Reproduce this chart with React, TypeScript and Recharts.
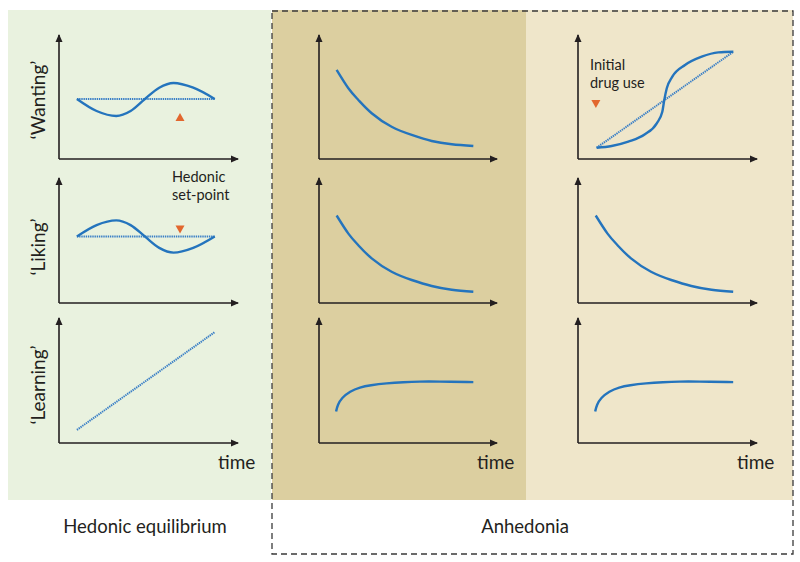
import { Line, LineChart, ReferenceDot, ReferenceLine, XAxis, YAxis } from 'recharts';

// shared time grids (axis units: 0 = origin, 10 = arrow tip)
const eqTime = [1.0, 2.1, 3.2, 4.0, 4.8, 5.6, 6.4, 7.5, 8.7];
const eqWanting = [4.84, 3.87, 3.47, 3.87, 4.84, 5.75, 6.13, 5.75, 4.84];
const eqLiking = [5.32, 6.23, 6.61, 6.23, 5.32, 4.41, 4.03, 4.41, 5.32];
const setPointTime = [1.0, 8.7];
const setPointWanting = [4.84, 4.84];
const setPointLiking = [5.32, 5.32];
const eqLearning = [1.05, 8.87];

const decayTime = [0.99, 1.65, 2.21, 2.96, 4.08, 5.21, 6.33, 7.46, 8.67];
const anhWanting = [7.18, 5.7, 4.76, 3.69, 2.6, 1.94, 1.45, 1.19, 1.05];
const anhLiking = [7.0, 5.55, 4.62, 3.57, 2.5, 1.84, 1.36, 1.06, 0.9];

const learnTime = [0.96, 1.05, 1.27, 1.74, 2.3, 2.87, 3.8, 4.74, 5.67, 6.61, 8.67];
const anhLearning = [2.52, 3.06, 3.6, 4.14, 4.46, 4.62, 4.78, 4.87, 4.92, 4.92, 4.87];

const drugTime = [1.04, 1.88, 2.81, 3.74, 4.4, 4.71, 4.82, 4.96, 5.27, 5.98, 6.91, 7.84, 8.68];
const drugWanting = [0.91, 1.05, 1.4, 1.99, 2.88, 3.81, 4.76, 5.7, 6.64, 7.58, 8.25, 8.6, 8.65];
const drugDiagTime = [1.04, 8.68];
const drugDiag = [0.91, 8.65];

const rowLabels = ['\u2018Wanting\u2019', '\u2018Liking\u2019', '\u2018Learning\u2019'];

const blue = '#2474bd';
const ink = '#231f20';
const orange = '#e2672e';
const font = 'Lato, "Open Sans", sans-serif';

const zip = (t: number[], v: number[]) => t.map((x, i) => ({ t: x, v: v[i] }));

type Series = { data: { t: number; v: number }[]; dotted?: boolean; curve?: 'natural' | 'monotone' | 'basis' };
type Marker = { x: number; y: number; dir: 'up' | 'down' };

const colX = [59, 319, 578];
const colW = [179, 178, 179];
const rowY = [35, 178, 318];
const rowH = [124, 125, 125];
const M = 8;

const arrowRight = (p: any) => (
  <polygon points={`${p.cx + 1},${p.cy} ${p.cx - 7},${p.cy - 3.5} ${p.cx - 7},${p.cy + 3.5}`} fill={ink} />
);
const arrowUp = (p: any) => (
  <polygon points={`${p.cx},${p.cy - 1} ${p.cx - 3.5},${p.cy + 7} ${p.cx + 3.5},${p.cy + 7}`} fill={ink} />
);
const triUp = (p: any) => (
  <polygon points={`${p.cx},${p.cy - 4} ${p.cx - 4.5},${p.cy + 4} ${p.cx + 4.5},${p.cy + 4}`} fill={orange} />
);
const triDown = (p: any) => (
  <polygon points={`${p.cx},${p.cy + 4} ${p.cx - 4.5},${p.cy - 4} ${p.cx + 4.5},${p.cy - 4}`} fill={orange} />
);

function Panel({ col, row, series, markers = [] }: { col: number; row: number; series: Series[]; markers?: Marker[] }) {
  const w = colW[col];
  const h = rowH[row];
  return (
    <div style={{ position: 'absolute', left: colX[col] - M, top: rowY[row] - M }}>
      <LineChart width={w + 2 * M} height={h + 2 * M} margin={{ top: M, right: M, bottom: M, left: M }}>
        <XAxis type="number" dataKey="t" domain={[0, 10]} allowDataOverflow hide />
        <YAxis type="number" dataKey="v" domain={[0, 10]} allowDataOverflow hide />
        <ReferenceLine y={0} stroke={ink} strokeWidth={1.6} />
        <ReferenceLine x={0} stroke={ink} strokeWidth={1.6} />
        <ReferenceDot x={10} y={0} r={0} shape={arrowRight} />
        <ReferenceDot x={0} y={10} r={0} shape={arrowUp} />
        {series.map((s, i) => (
          <Line
            key={i}
            data={s.data}
            dataKey="v"
            type={s.curve ?? 'natural'}
            stroke={s.dotted ? '#3a7fc6' : blue}
            strokeWidth={s.dotted ? 2 : 2.4}
            strokeDasharray={s.dotted ? '1.4 0.8' : undefined}
            dot={false}
            isAnimationActive={false}
          />
        ))}
        {markers.map((m, i) => (
          <ReferenceDot key={i} x={m.x} y={m.y} r={0} shape={m.dir === 'up' ? triUp : triDown} />
        ))}
      </LineChart>
    </div>
  );
}

function Text({ x, y, size, children, center, rotate }: any) {
  return (
    <div
      style={{
        position: 'absolute',
        left: x,
        top: y,
        fontSize: size,
        lineHeight: 1.25,
        whiteSpace: 'nowrap',
        transform: `${center ? 'translate(-50%,-50%)' : ''} ${rotate ? 'rotate(-90deg)' : ''}`,
      }}
    >
      {children}
    </div>
  );
}

export default function App() {
  return (
    <div style={{ position: 'absolute', left: 0, top: 0, width: 800, height: 562, background: '#fff', fontFamily: font, color: ink, overflow: 'hidden' }}>
      <div style={{ position: 'absolute', left: 8, top: 10, width: 263, height: 490, background: '#e9f2df' }} />
      <div style={{ position: 'absolute', left: 272, top: 10, width: 254, height: 490, background: '#dccfa0' }} />
      <div style={{ position: 'absolute', left: 526, top: 10, width: 267, height: 490, background: '#efe6ca' }} />

      <Panel col={0} row={0} series={[{ data: zip(setPointTime, setPointWanting), dotted: true }, { data: zip(eqTime, eqWanting), curve: 'monotone' }]} markers={[{ x: 6.76, y: 3.39, dir: 'up' }]} />
      <Panel col={0} row={1} series={[{ data: zip(setPointTime, setPointLiking), dotted: true }, { data: zip(eqTime, eqLiking), curve: 'monotone' }]} markers={[{ x: 6.76, y: 5.89, dir: 'down' }]} />
      <Panel col={0} row={2} series={[{ data: zip(setPointTime, eqLearning), dotted: true }]} />

      <Panel col={1} row={0} series={[{ data: zip(decayTime, anhWanting) }]} />
      <Panel col={1} row={1} series={[{ data: zip(decayTime, anhLiking) }]} />
      <Panel col={1} row={2} series={[{ data: zip(learnTime, anhLearning), curve: 'basis' }]} />

      <Panel col={2} row={0} series={[{ data: zip(drugDiagTime, drugDiag), dotted: true }, { data: zip(drugTime, drugWanting), curve: 'monotone' }]} markers={[{ x: 1.0, y: 4.44, dir: 'down' }]} />
      <Panel col={2} row={1} series={[{ data: zip(decayTime, anhLiking) }]} />
      <Panel col={2} row={2} series={[{ data: zip(learnTime, anhLearning), curve: 'basis' }]} />

      {rowLabels.map((label, i) => (
        <Text key={label} x={38} y={rowY[i] + [65, 69, 67][i]} size={19} center rotate>
          {label}
        </Text>
      ))}

      <Text x={172} y={168} size={14.5}>Hedonic<br />set-point</Text>
      <Text x={590} y={56} size={14.5}>Initial<br />drug use</Text>

      {colX.map((x, i) => (
        <Text key={i} x={x + colW[i] - 20} y={450} size={19}>time</Text>
      ))}

      <Text x={145} y={527} size={18.5} center>Hedonic equilibrium</Text>
      <Text x={525} y={527} size={18.5} center>Anhedonia</Text>

      <svg width={800} height={562} style={{ position: 'absolute', left: 0, top: 0, pointerEvents: 'none' }}>
        <rect x={272} y={11} width={521} height={543} fill="none" stroke="#3a3a3a" strokeWidth={1.3} strokeDasharray="6 4" />
      </svg>
    </div>
  );
}
